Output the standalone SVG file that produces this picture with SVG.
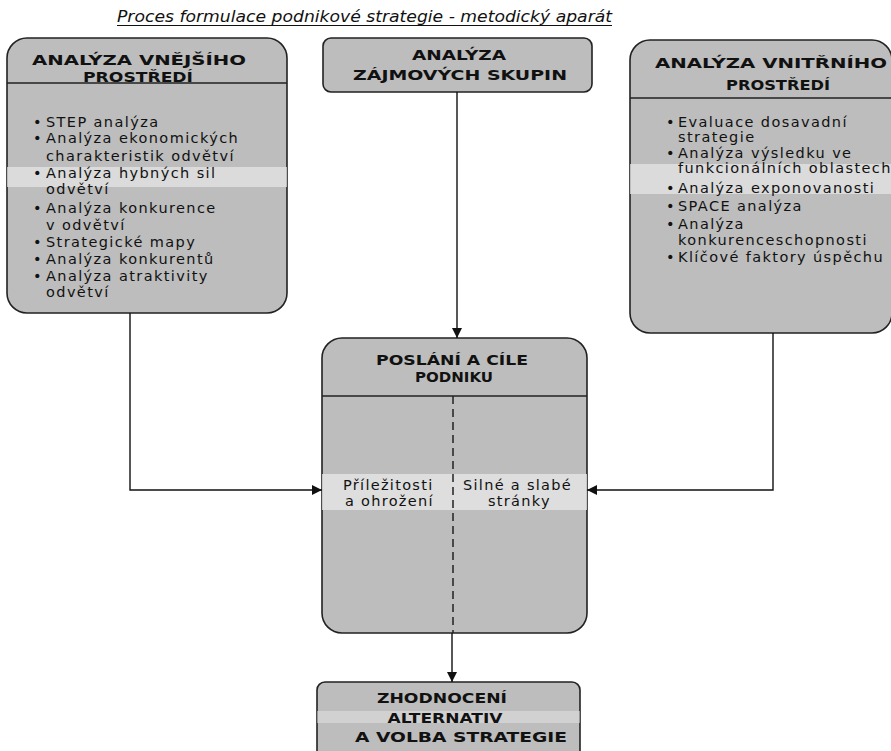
<svg xmlns="http://www.w3.org/2000/svg" width="891" height="751" viewBox="0 0 891 751">
<style>
.box{fill:#bdbdbd;stroke:#222;stroke-width:1.6}
.band{fill:#e6e6e6}
.div{stroke:#222;stroke-width:1.3}
.hd{font-family:"DejaVu Sans",sans-serif;font-weight:bold;font-size:14px;fill:#111;text-anchor:middle}
.it{font-family:"DejaVu Sans",sans-serif;font-size:14.5px;letter-spacing:1.4px;fill:#111}
.mid{font-family:"DejaVu Sans",sans-serif;font-size:14.5px;letter-spacing:1.3px;fill:#111}
.ttl{font-family:"DejaVu Sans",sans-serif;font-style:italic;font-size:15px;fill:#111}
.con{fill:none;stroke:#111;stroke-width:1.4}
</style>
<defs>
<marker id="ah" viewBox="0 0 10 10" refX="10" refY="5" markerWidth="10" markerHeight="10" markerUnits="userSpaceOnUse" orient="auto">
<path d="M0,0 L10,5 L0,10 z" fill="#111"/>
</marker>
<clipPath id="cL"><rect x="7" y="38" width="280" height="275" rx="20"/></clipPath>
<clipPath id="cR"><rect x="630" y="40" width="262" height="293" rx="20"/></clipPath>
<clipPath id="cC"><rect x="322" y="338" width="265" height="295" rx="20"/></clipPath>
<clipPath id="cB"><rect x="317" y="682" width="263" height="80" rx="8"/></clipPath>
</defs>

<g id="title">
<text class="ttl" x="117" y="22" textLength="495" lengthAdjust="spacingAndGlyphs">Proces formulace podnikové strategie - metodický aparát</text>
<line x1="117" y1="25.5" x2="612" y2="25.5" stroke="#111" stroke-width="1"/>
</g>

<g id="vnejsi">
<rect class="box" x="7" y="38" width="280" height="275" rx="20"/>
<g clip-path="url(#cL)"><rect class="band" x="7" y="167" width="280" height="20" opacity="0.75"/></g>
<line class="div" x1="7" y1="83" x2="287" y2="83"/>
<text class="hd" x="139" y="65" textLength="214" lengthAdjust="spacingAndGlyphs">ANALÝZA VNĚJŠÍHO</text>
<text class="hd" x="138" y="82" textLength="110" lengthAdjust="spacingAndGlyphs">PROSTŘEDÍ</text>
<g class="it">
<text x="33" y="127">•</text><text x="46" y="127">STEP analýza</text>
<text x="33" y="143">•</text><text x="46" y="143">Analýza ekonomických</text>
<text x="46" y="161">charakteristik odvětví</text>
<text x="33" y="178">•</text><text x="46" y="178">Analýza hybných sil</text>
<text x="46" y="194">odvětví</text>
<text x="33" y="213">•</text><text x="46" y="213">Analýza konkurence</text>
<text x="46" y="230">v odvětví</text>
<text x="33" y="247">•</text><text x="46" y="247">Strategické mapy</text>
<text x="33" y="264">•</text><text x="46" y="264">Analýza konkurentů</text>
<text x="33" y="281">•</text><text x="46" y="281">Analýza atraktivity</text>
<text x="46" y="297">odvětví</text>
</g>
</g>

<g id="zajmove">
<rect class="box" x="323" y="38" width="269" height="54" rx="8"/>
<text class="hd" x="459" y="60" textLength="94" lengthAdjust="spacingAndGlyphs">ANALÝZA</text>
<text class="hd" x="460" y="80" textLength="214" lengthAdjust="spacingAndGlyphs">ZÁJMOVÝCH SKUPIN</text>
</g>

<g id="vnitrni">
<rect class="box" x="630" y="40" width="262" height="293" rx="20"/>
<g clip-path="url(#cR)"><rect class="band" x="630" y="164" width="262" height="30" opacity="0.75"/></g>
<line class="div" x1="630" y1="98" x2="891" y2="98"/>
<text class="hd" x="771" y="68" textLength="232" lengthAdjust="spacingAndGlyphs">ANALÝZA VNITŘNÍHO</text>
<text class="hd" x="778" y="90" textLength="104" lengthAdjust="spacingAndGlyphs">PROSTŘEDÍ</text>
<g class="it">
<text x="666" y="127">•</text><text x="678" y="127">Evaluace dosavadní</text>
<text x="678" y="142">strategie</text>
<text x="666" y="158">•</text><text x="678" y="158">Analýza výsledku ve</text>
<text x="678" y="173">funkcionálních oblastech</text>
<text x="666" y="193">•</text><text x="678" y="193">Analýza exponovanosti</text>
<text x="666" y="211">•</text><text x="678" y="211">SPACE analýza</text>
<text x="666" y="229">•</text><text x="678" y="229">Analýza</text>
<text x="678" y="245">konkurenceschopnosti</text>
<text x="666" y="262">•</text><text x="678" y="262">Klíčové faktory úspěchu</text>
</g>
</g>

<g id="poslani">
<rect class="box" x="322" y="338" width="265" height="295" rx="20"/>
<g clip-path="url(#cC)"><rect class="band" x="322" y="474" width="265" height="36" opacity="0.8"/></g>
<line class="div" x1="322" y1="396" x2="587" y2="396"/>
<line x1="453" y1="396" x2="453" y2="633" stroke="#222" stroke-width="1.5" stroke-dasharray="8,5"/>
<text class="hd" x="452" y="365" textLength="152" lengthAdjust="spacingAndGlyphs">POSLÁNÍ A CÍLE</text>
<text class="hd" x="454" y="382" textLength="78" lengthAdjust="spacingAndGlyphs">PODNIKU</text>
<g class="mid">
<text x="343" y="490">Příležitosti</text>
<text x="345" y="506">a ohrožení</text>
<text x="463" y="490">Silné a slabé</text>
<text x="488" y="506">stránky</text>
</g>
</g>

<g id="zhodnoceni">
<rect class="box" x="317" y="682" width="263" height="80" rx="8"/>
<g clip-path="url(#cB)"><rect class="band" x="317" y="711" width="263" height="12" opacity="0.5"/></g>
<text class="hd" x="442" y="703" textLength="130" lengthAdjust="spacingAndGlyphs">ZHODNOCENÍ</text>
<text class="hd" x="445" y="723" textLength="115" lengthAdjust="spacingAndGlyphs">ALTERNATIV</text>
<text class="hd" x="461" y="742" textLength="212" lengthAdjust="spacingAndGlyphs">A VOLBA STRATEGIE</text>
</g>

<g id="connectors">
<path class="con" d="M457,92 L457,338" marker-end="url(#ah)"/>
<path class="con" d="M130,313 L130,490 L322,490" marker-end="url(#ah)"/>
<path class="con" d="M773,333 L773,490 L587,490" marker-end="url(#ah)"/>
<path class="con" d="M452,633 L452,682" marker-end="url(#ah)"/>
</g>
</svg>
